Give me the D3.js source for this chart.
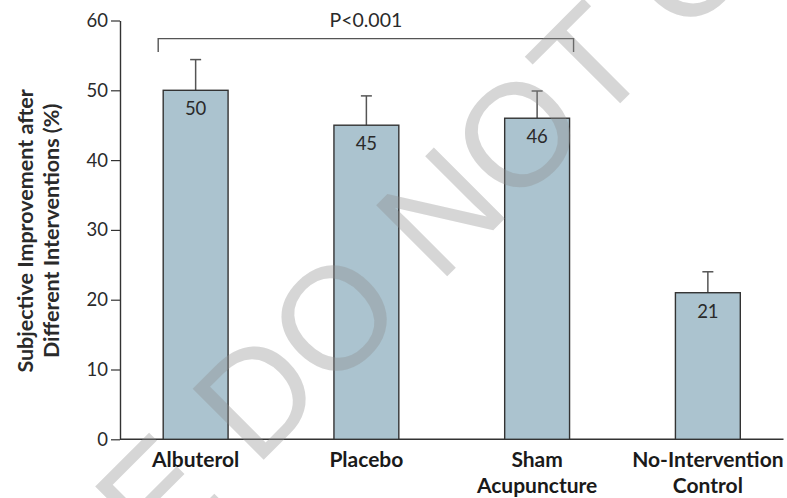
<!DOCTYPE html>
<html>
<head>
<meta charset="utf-8">
<script src="https://cdn.jsdelivr.net/npm/d3@7"></script>
<style>
  html, body { margin: 0; padding: 0; background: #fff; }
  svg { display: block; }
</style>
</head>
<body>
<div id="chart"></div>
<script>
// Subjective improvement (%) by intervention
const categories = ["Albuterol", "Placebo", "Sham Acupuncture", "No-Intervention Control"];
const categoryLines = [["Albuterol"], ["Placebo"], ["Sham", "Acupuncture"], ["No-Intervention", "Control"]];
const improvement = [50, 45, 46, 21];
const errorUpper = [54.4, 49.2, 49.9, 24.0];
const yTicks = [0, 10, 20, 30, 40, 50, 60];
const comparisonLabel = "P<0.001";
const comparisonGroups = ["Albuterol", "Sham Acupuncture"];

const W = 787, H = 498;
const svg = d3.select("#chart").append("svg").attr("width", W).attr("height", H);

const font = "Lato, 'Open Sans', sans-serif";
const ink = "#2a2a2a";

const x = d3.scaleBand()
  .domain(categories)
  .range([120, 783.5])
  .paddingInner(0.62)
  .paddingOuter(0.253);

const y = d3.scaleLinear().domain([0, 60]).range([439.3, 20.5]);

// Y axis
const yAxis = svg.append("g")
  .attr("transform", `translate(${x.range()[0]},0)`)
  .call(d3.axisLeft(y).tickValues(yTicks).tickSize(9).tickSizeOuter(0).tickPadding(3));
yAxis.select(".domain").attr("stroke", "#333").attr("stroke-width", 1.4);
yAxis.selectAll(".tick line").attr("stroke", "#333").attr("stroke-width", 1.2);
yAxis.selectAll(".tick text")
  .attr("font-family", font).attr("font-size", 18.5).attr("fill", ink);

// X baseline
svg.append("line")
  .attr("x1", x.range()[0]).attr("x2", x.range()[1])
  .attr("y1", y(0)).attr("y2", y(0))
  .attr("stroke", "#333").attr("stroke-width", 1.4);

// Y axis title
const yTitle = svg.append("text")
  .attr("transform", `translate(0,${(y(0) + y(60)) / 2 + 1}) rotate(-90)`)
  .attr("text-anchor", "middle")
  .attr("font-family", font).attr("font-weight", 700).attr("font-size", 21.5)
  .attr("fill", ink);
yTitle.append("tspan").attr("x", 0).attr("y", 33).text("Subjective Improvement after");
yTitle.append("tspan").attr("x", 0).attr("y", 59).text("Different Interventions (%)");

// Error bars (upper only)
const cap = 5.5;
const eb = svg.append("g").attr("stroke", "#555").attr("stroke-width", 1.5);
categories.forEach((c, i) => {
  const cx = x(c) + x.bandwidth() / 2;
  eb.append("line").attr("x1", cx).attr("x2", cx).attr("y1", y(improvement[i])).attr("y2", y(errorUpper[i]));
  eb.append("line").attr("x1", cx - cap).attr("x2", cx + cap).attr("y1", y(errorUpper[i])).attr("y2", y(errorUpper[i]));
});

// Bars
svg.append("g").selectAll("rect")
  .data(categories)
  .join("rect")
  .attr("x", d => x(d))
  .attr("y", (d, i) => y(improvement[i]))
  .attr("width", x.bandwidth())
  .attr("height", (d, i) => y(0) - y(improvement[i]))
  .attr("fill", "#abc3cf")
  .attr("stroke", "#333")
  .attr("stroke-width", 1.4);

// Value labels inside bars
svg.append("g").selectAll("text")
  .data(categories)
  .join("text")
  .attr("x", d => x(d) + x.bandwidth() / 2)
  .attr("y", (d, i) => y(improvement[i]) + 25)
  .attr("text-anchor", "middle")
  .attr("font-family", font).attr("font-size", 18.5).attr("fill", ink)
  .text((d, i) => improvement[i]);

// Category labels
categories.forEach((c, i) => {
  const t = svg.append("text")
    .attr("text-anchor", "middle")
    .attr("font-family", font).attr("font-weight", 700).attr("font-size", 21)
    .attr("fill", "#1a1a1a");
  categoryLines[i].forEach((line, j) => {
    t.append("tspan")
      .attr("x", x(c) + x.bandwidth() / 2)
      .attr("y", 467 + j * 25.5)
      .text(line);
  });
});

// Significance bracket
const bx1 = x(comparisonGroups[0]) - 5;
const bx2 = x(comparisonGroups[1]) + x.bandwidth() + 4;
const bTop = y(57.4), bEnd = y(55.5);
svg.append("path")
  .attr("d", `M${bx1},${bEnd}V${bTop}H${bx2}V${bEnd}`)
  .attr("fill", "none").attr("stroke", "#555").attr("stroke-width", 1.4);
svg.append("text")
  .attr("x", (bx1 + bx2) / 2)
  .attr("y", bTop - 12)
  .attr("text-anchor", "middle")
  .attr("font-family", font).attr("font-size", 19.5).attr("fill", ink)
  .text(comparisonLabel);

// Diagonal watermark
svg.append("g")
  .attr("transform", "translate(333,317) rotate(-45)")
  .append("text")
  .attr("x", -300).attr("y", 52)
  .attr("font-family", "'Liberation Sans', Arial, sans-serif")
  .attr("font-size", 146)
  .attr("fill", "#8c8c8c")
  .attr("fill-opacity", 0.36)
  .attr("pointer-events", "none")
  .text("E DO NOT C");
</script>
</body>
</html>
